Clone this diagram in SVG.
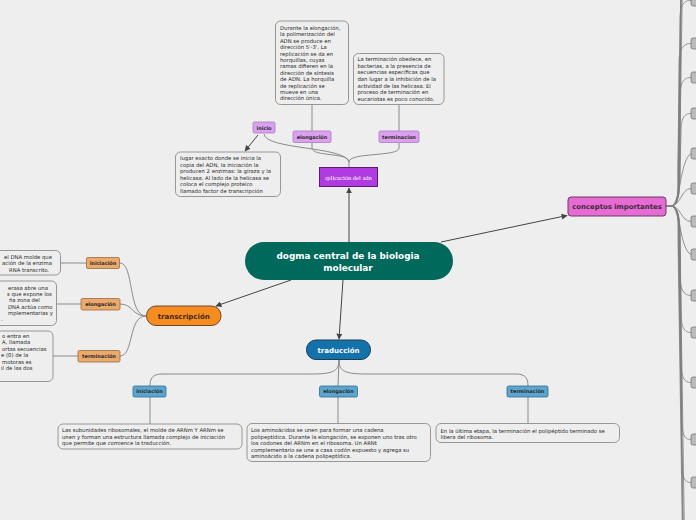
<svg xmlns="http://www.w3.org/2000/svg" width="696" height="520" viewBox="0 0 696 520">
<defs>
<marker id="arr" viewBox="0 0 10 10" refX="9" refY="5" markerWidth="6" markerHeight="6" orient="auto" markerUnits="userSpaceOnUse">
<path d="M0,0 L10,5 L0,10 z" fill="#444"/>
</marker>
<style>
.bg{fill:#eeeeee}
.tb{fill:#eeeeee;stroke:#8c8c8c;stroke-width:0.9}
.t{font-family:"DejaVu Sans",Verdana,sans-serif;font-size:5.3px;fill:#1e1e1e}
.lb{font-family:"DejaVu Sans",Verdana,sans-serif;font-size:5px;font-weight:bold;fill:#2a2a2a;text-anchor:middle}
.c{fill:none;stroke:#8a8a8a;stroke-width:1}
.a{fill:none;stroke:#444;stroke-width:1;marker-end:url(#arr)}
.pur{fill:#dca0f0;stroke:#a77bbf;stroke-width:0.8}
.org{fill:#eba96c;stroke:#9a6a3c;stroke-width:0.8}
.blu{fill:#5ca5ce;stroke:#2f6f90;stroke-width:0.8}
.rb{fill:#bbbbbb;stroke:#777;stroke-width:0.8}
.b{fill:none;stroke:#7e7e7e;stroke-width:0.8}
</style>
</defs>
<rect class="bg" x="0" y="0" width="696" height="520"/>

<g id="connectors">
<path class="a" d="M349,242 L349,188"/>
<path class="a" d="M441,242 L567,215.5"/>
<path class="a" d="M291,280 L216,306"/>
<path class="a" d="M343,280 L339,339"/>
<path class="a" d="M258,135 L245,151"/>
<path class="c" d="M264,134 C266,150 345,146 349,162 L349,167"/>
<path class="c" d="M312,143 L312,148 C312,157 349,152 349,162"/>
<path class="c" d="M399,143 L399,148 C399,157 349,152 349,162"/>
<path class="c" d="M312,131 L312,105"/>
<path class="c" d="M399,131 L399,105"/>
<path class="c" d="M146,316 C128,316 134,263 120,263"/>
<path class="c" d="M146,316 C132,316 133,304 120,304"/>
<path class="c" d="M146,316 C128,316 134,356 120,356"/>
<path class="c" d="M86.5,263 L60.5,263"/>
<path class="c" d="M81,304 L56.5,304"/>
<path class="c" d="M78,356 L53,356"/>
<path class="c" d="M339,360 C339,372 332,374 310,374 L162,374 C152,374 150,379 150,386"/>
<path class="c" d="M339,360 C339,372 346,374 368,374 L516,374 C526,374 528,379 528,386"/>
<path class="c" d="M339,360 L338,386"/>
<path class="c" d="M150,397 L150,424"/>
<path class="c" d="M338,397 L338,424"/>
<path class="c" d="M528,397 L528,424"/>
<path d="M666,206 L671,206" stroke="#444" stroke-width="1.2"/>
<path class="b" d="M671,206 C679,206 678,190 678,170 L683,-150"/>
<path class="b" d="M671,206 C679,206 678.5,190 678.5,170 L683.5,-150"/>
<path class="b" d="M671,206 C679,206 679,190 679,170 L682,-100"/>
<path class="b" d="M671,206 C679,206 679.5,190 679.5,170 L684,-120"/>
<path class="b" d="M671,206 C679,206 680,190 680,170 L681,-40 C681,-20 684,-20 691,-20"/>
<path class="b" d="M671,206 C679,206 679,190 679,170 L680,20 C680,4 684,0.5 691,0.5"/>
<path class="b" d="M671,206 C679,206 678,190 678,170 L679,63 C679,48 684,43.5 691,43.5"/>
<path class="b" d="M671,206 C679,206 679,190 679,170 L680,97 C680,82 684,77.5 691,77.5"/>
<path class="b" d="M671,206 C679,206 680,190 680,170 L681,133 C681,118 684,113.5 691,113.5"/>
<path class="b" d="M671,206 C680,206 680,160 691,153.5"/>
<path class="b" d="M671,206 C681,206 681,188.5 691,188.5"/>
<path class="b" d="M671,206 C681,206 681,221.5 691,221.5"/>
<path class="b" d="M671,206 C680,206 680,250 691,254.5"/>
<path class="b" d="M671,206 C679,206 679,222 679,240 L680,276 C680,290 684,295.5 691,295.5"/>
<path class="b" d="M671,206 C679,206 680,222 680,240 L681,312 C681,327 684,332.5 691,332.5"/>
<path class="b" d="M671,206 C679,206 679,222 679,240 L681,362 C681,377 684,382.5 691,382.5"/>
<path class="b" d="M671,206 C679,206 680,222 680,240 L682,419 C682,434 684,439.5 691,439.5"/>
<path class="b" d="M671,206 C679,206 679,222 679,240 L682,462 C682,477 684,482.5 691,482.5"/>
<path class="b" d="M671,206 C679,206 678,222 678,240 L684,640"/>
<path class="b" d="M671,206 C679,206 678.5,222 678.5,240 L684.5,640"/>
<path class="b" d="M671,206 C679,206 679,222 679,240 L685,640"/>
<path class="b" d="M671,206 C679,206 680,222 680,240 L686,640"/>
</g>

<g id="right-boxes">
<rect class="rb" x="691" y="-5" width="20" height="11" rx="2"/>
<rect class="rb" x="691" y="38" width="20" height="11" rx="2"/>
<rect class="rb" x="691" y="72" width="20" height="11" rx="2"/>
<rect class="rb" x="691" y="108" width="20" height="11" rx="2"/>
<rect class="rb" x="691" y="148" width="20" height="11" rx="2"/>
<rect class="rb" x="691" y="183" width="20" height="11" rx="2"/>
<rect class="rb" x="691" y="216" width="20" height="11" rx="2"/>
<rect class="rb" x="691" y="249" width="20" height="11" rx="2"/>
<rect class="rb" x="691" y="290" width="20" height="11" rx="2"/>
<rect class="rb" x="691" y="327" width="20" height="11" rx="2"/>
<rect class="rb" x="691" y="377" width="20" height="11" rx="2"/>
<rect class="rb" x="691" y="434" width="20" height="11" rx="2"/>
<rect class="rb" x="691" y="477" width="20" height="11" rx="2"/>
</g>

<g id="central">
<rect x="245" y="242" width="208" height="38" rx="19" fill="#00695c"/>
<text font-family="'DejaVu Sans',Verdana,sans-serif" font-size="8.9" font-weight="bold" fill="#ffffff" text-anchor="middle"><tspan x="348" y="258.8">dogma central de la biologia</tspan><tspan x="348" y="270.8">molecular</tspan></text>
</g>

<g id="replicacion">
<rect x="319.5" y="167.5" width="58" height="19" fill="#b03be0" stroke="#5a1a70" stroke-width="1"/>
<text x="348.5" y="180" font-family="'Liberation Serif','Times New Roman',serif" font-size="6.5" fill="#ffffff" text-anchor="middle">rplicación del adn</text>
</g>

<g id="rep-inicio">
<rect class="pur" x="253" y="122" width="22" height="11" rx="1.5"/>
<text class="lb" x="264" y="129.5">inicio</text>
</g>
<g id="rep-elongacion">
<rect class="pur" x="293" y="131" width="38" height="11.5" rx="1.5"/>
<text class="lb" x="312" y="138.7">elongación</text>
</g>
<g id="rep-terminacion">
<rect class="pur" x="379" y="131" width="40" height="11.5" rx="1.5"/>
<text class="lb" x="399" y="138.7">terminacion</text>
</g>

<g id="rep-elong-text">
<rect class="tb" x="275.5" y="21" width="73" height="83.5" rx="5"/>
<text class="t"><tspan x="280" y="30">Durante la elongación,</tspan><tspan x="280" y="36.4">la polimerización del</tspan><tspan x="280" y="42.8">ADN se produce en</tspan><tspan x="280" y="49.2">dirección 5'-3'. La</tspan><tspan x="280" y="55.6">replicación se da en</tspan><tspan x="280" y="62">horquillas, cuyas</tspan><tspan x="280" y="68.4">ramas difieren en la</tspan><tspan x="280" y="74.8">dirección de síntesis</tspan><tspan x="280" y="81.2">de ADN. La horquilla</tspan><tspan x="280" y="87.6">de replicación se</tspan><tspan x="280" y="94">mueve en una</tspan><tspan x="280" y="100.4">dirección única.</tspan></text>
</g>

<g id="rep-term-text">
<rect class="tb" x="353.5" y="53.5" width="90.5" height="51" rx="5"/>
<text class="t"><tspan x="357.5" y="60.8">La terminación obedece, en</tspan><tspan x="357.5" y="67.5">bacterias, a la presencia de</tspan><tspan x="357.5" y="74.2">secuencias específicas que</tspan><tspan x="357.5" y="80.9">dan lugar a la inhibición de la</tspan><tspan x="357.5" y="87.6">actividad de las helicasa. El</tspan><tspan x="357.5" y="94.3">proceso de terminación en</tspan><tspan x="357.5" y="101">eucariotas es poco conocido.</tspan></text>
</g>

<g id="rep-inicio-text">
<rect class="tb" x="175.5" y="152" width="105" height="44.5" rx="5"/>
<text class="t"><tspan x="180" y="160">lugar exacto donde se inicia la</tspan><tspan x="180" y="166.5">copia del ADN, la iniciación la</tspan><tspan x="180" y="173">producen 2 enzimas: la giraza y la</tspan><tspan x="180" y="179.6">helicasa. Al lado de la helicasa se</tspan><tspan x="180" y="186.1">coloca el complejo proteico</tspan><tspan x="180" y="192.7">llamado factor de transcripción</tspan></text>
</g>

<g id="conceptos">
<rect x="568" y="197" width="98" height="19" rx="3" fill="#e66bd2" stroke="#6a3a64" stroke-width="1"/>
<text x="617" y="209.2" font-family="'DejaVu Sans',Verdana,sans-serif" font-size="6.9" font-weight="bold" fill="#3a2a3a" text-anchor="middle">conceptos importantes</text>
</g>

<g id="transcripcion">
<rect x="146.5" y="306" width="74.5" height="19.5" rx="9.5" fill="#f68b1f" stroke="#6a4a2a" stroke-width="1"/>
<text x="183.7" y="318.5" font-family="'DejaVu Sans',Verdana,sans-serif" font-size="7" font-weight="bold" fill="#3a2a1a" text-anchor="middle">transcripción</text>
</g>

<g id="tr-iniciacion">
<rect class="org" x="86.5" y="257.5" width="33" height="11" rx="1.5"/>
<text class="lb" x="103" y="264.8">iniciación</text>
</g>
<g id="tr-elongacion">
<rect class="org" x="81" y="298.5" width="39" height="11.5" rx="1.5"/>
<text class="lb" x="100.5" y="306">elongación</text>
</g>
<g id="tr-terminacion">
<rect class="org" x="78" y="350.5" width="42" height="11.5" rx="1.5"/>
<text class="lb" x="99" y="358">terminación</text>
</g>

<g id="tr-ini-text">
<rect class="tb" x="-10" y="250.5" width="70.5" height="24.5" rx="5"/>
<text class="t"><tspan x="4" y="258.5">el DNA molde que</tspan><tspan x="2" y="265">ación de la enzima</tspan><tspan x="9" y="271.5">RNA transcrito.</tspan></text>
</g>
<g id="tr-elong-text">
<rect class="tb" x="-10" y="281" width="66.5" height="44.5" rx="5"/>
<text class="t"><tspan x="8" y="289.5">erasa abre una</tspan><tspan x="7" y="295.9">s que expone los</tspan><tspan x="9" y="302.3">ña zona del</tspan><tspan x="8" y="308.6">DNA actúa como</tspan><tspan x="8" y="315">mplementarias y</tspan><tspan x="1" y="321.4">.</tspan></text>
</g>
<g id="tr-term-text">
<rect class="tb" x="-10" y="331" width="63" height="50.5" rx="5"/>
<text class="t"><tspan x="2" y="337.8">o entra en</tspan><tspan x="2" y="344.3">A, llamada</tspan><tspan x="2" y="350.8">ortas secuencias</tspan><tspan x="1" y="357.3">e (0) de la</tspan><tspan x="2" y="363.8">motoras es</tspan><tspan x="1" y="370.3">il de las dos</tspan></text>
</g>

<g id="traduccion">
<rect x="306.5" y="340" width="64" height="19.5" rx="9.5" fill="#1372aa" stroke="#1e3e55" stroke-width="1"/>
<text x="338.5" y="352.5" font-family="'DejaVu Sans',Verdana,sans-serif" font-size="7" font-weight="bold" fill="#ffffff" text-anchor="middle">traducción</text>
</g>

<g id="td-iniciacion">
<rect class="blu" x="133" y="386" width="33" height="11" rx="1.5"/>
<text class="lb" x="149.5" y="393.3">iniciación</text>
</g>
<g id="td-elongacion">
<rect class="blu" x="319.5" y="386" width="38" height="11" rx="1.5"/>
<text class="lb" x="338.5" y="393.3">elongación</text>
</g>
<g id="td-terminacion">
<rect class="blu" x="507" y="386" width="41" height="11" rx="1.5"/>
<text class="lb" x="527.5" y="393.3">terminación</text>
</g>

<g id="td-ini-text">
<rect class="tb" x="58" y="424" width="184" height="25" rx="5"/>
<text class="t"><tspan x="62" y="432">Las subunidades ribosomales, el molde de ARNm Y ARNm se</tspan><tspan x="62" y="438.5">unen y forman una estructura llamada complejo de iniciación</tspan><tspan x="62" y="445">que permite que comience la traducción.</tspan></text>
</g>
<g id="td-elong-text">
<rect class="tb" x="247" y="423.5" width="183.5" height="38" rx="5"/>
<text class="t"><tspan x="251" y="432">Los aminoácidos se unen para formar una cadena</tspan><tspan x="251" y="438.5">polipeptídica. Durante la elongación, se exponen uno tras otro</tspan><tspan x="251" y="445">los codones del ARNm en el ribosoma. Un ARNt</tspan><tspan x="251" y="451.5">complementario se une a casa codón expuesto y agrega su</tspan><tspan x="251" y="458">aminoácido a la cadena polipeptídica.</tspan></text>
</g>
<g id="td-term-text">
<rect class="tb" x="436" y="423.5" width="183.5" height="19" rx="5"/>
<text class="t"><tspan x="440.5" y="432.5">En la última etapa, la terminación el polipéptido terminado se</tspan><tspan x="440.5" y="439">libera del ribosoma.</tspan></text>
</g>
</svg>
